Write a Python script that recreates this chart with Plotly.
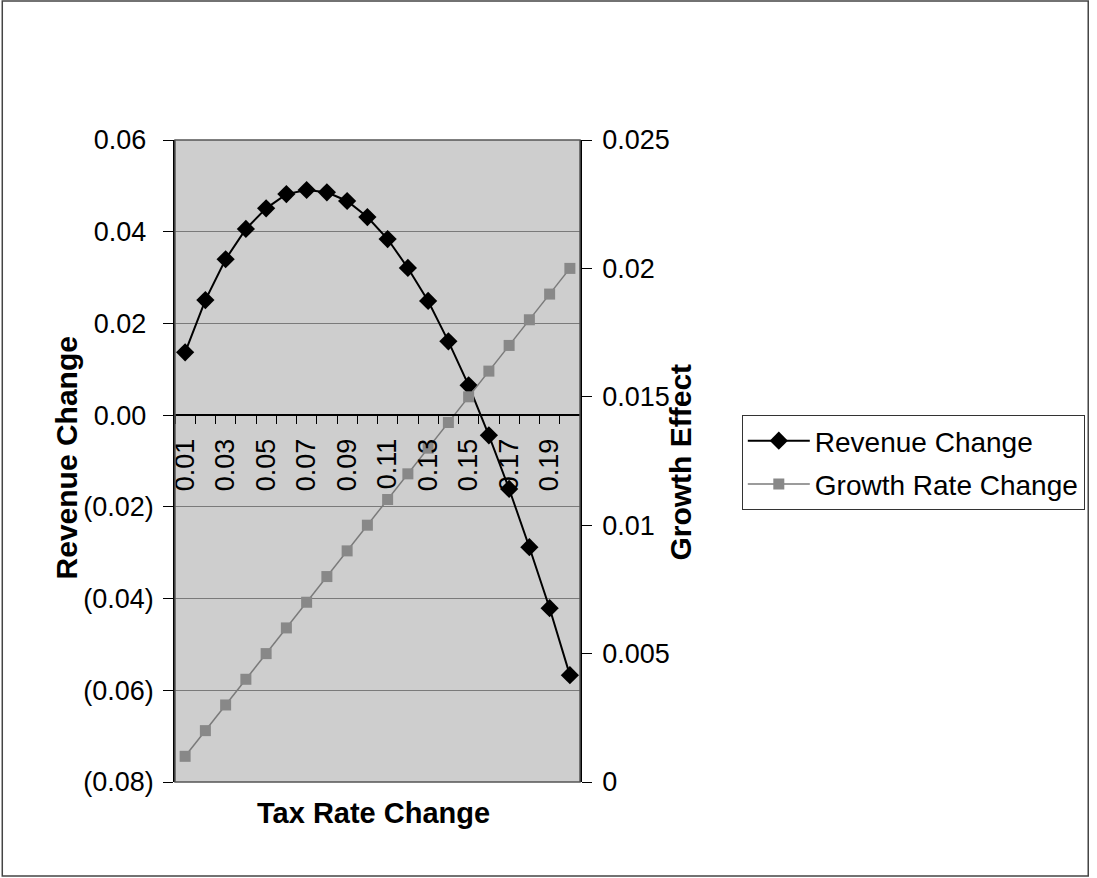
import plotly.graph_objects as go

# Tax rate categories (0.01 .. 0.20)
tax_rates = [f"{i/100:.2f}" for i in range(1, 21)]

# Revenue change for each tax rate (left axis)
revenue_change = [0.0137, 0.0251, 0.0340, 0.0406, 0.0451, 0.0482, 0.0491, 0.0486,
                  0.0467, 0.0432, 0.0384, 0.0321, 0.0249, 0.0161, 0.0065, -0.0044,
                  -0.0161, -0.0288, -0.0421, -0.0567]

# Growth rate change for each tax rate (right axis)
growth_change = [0.001, 0.002, 0.003, 0.004, 0.005, 0.006, 0.007, 0.008, 0.009, 0.010,
                 0.011, 0.012, 0.013, 0.014, 0.015, 0.016, 0.017, 0.018, 0.019, 0.020]

NBSP = "\u00a0"
left_ticks = [-0.08, -0.06, -0.04, -0.02, 0.0, 0.02, 0.04, 0.06]
left_tick_text = ["(0.08)", "(0.06)", "(0.04)", "(0.02)",
                  "0.00" + NBSP, "0.02" + NBSP, "0.04" + NBSP, "0.06" + NBSP]
right_ticks = [0, 0.005, 0.01, 0.015, 0.02, 0.025]
right_tick_text = ["0", "0.005", "0.01", "0.015", "0.02", "0.025"]

W, H = 1097, 878
L, R, T, B = 175, 583, 140, 782
pw, ph = R - L, B - T

xpos = list(range(1, len(tax_rates) + 1))
FONT = "Liberation Sans, Arial, sans-serif"
TICK_SIZE = 27
GRID = "#7a7a7a"

fig = go.Figure()
fig.add_trace(go.Scatter(
    x=xpos, y=revenue_change, name="Revenue Change", mode="lines+markers",
    legendgroup="rev",
    line=dict(color="black", width=2),
    marker=dict(symbol="diamond", size=14, color="black"),
    xaxis="x", yaxis="y"))
fig.add_trace(go.Scatter(
    x=xpos, y=growth_change, name="Growth Rate Change", mode="lines+markers",
    legendgroup="growth",
    line=dict(color="#7a7a7a", width=1.5),
    marker=dict(symbol="square", size=11, color="#888888"),
    xaxis="x", yaxis="y2"))

ymin, ymax = left_ticks[0], left_ticks[-1]
zero_pos = (0 - ymin) / (ymax - ymin)

fig.update_layout(
    width=W, height=H,
    margin=dict(l=L, r=W - R, t=T, b=H - B, pad=0),
    paper_bgcolor="white",
    plot_bgcolor="#cecece",
    font=dict(family=FONT, size=TICK_SIZE, color="black"),
    showlegend=True,
    legend=dict(
        x=(746 - L) / pw, y=(B - 415) / ph, xanchor="left", yanchor="top",
        bgcolor="white", bordercolor="#333333", borderwidth=1,
        font=dict(size=28, family=FONT), itemwidth=62, tracegroupgap=4),
    xaxis=dict(
        range=[0.5, len(tax_rates) + 0.5],
        tickmode="array", tickvals=xpos[::2], ticktext=tax_rates[::2],
        tickangle=-90, ticks="", showgrid=False, zeroline=False,
        showline=True, linecolor="black", linewidth=1.5,
        anchor="free", position=zero_pos,
        tickfont=dict(size=TICK_SIZE), ticklabelstandoff=12,
        minor=dict(tickvals=[i + 0.5 for i in range(0, len(tax_rates) + 1)],
                   ticks="outside", ticklen=8, tickcolor="black", showgrid=False),
    ),
    yaxis=dict(
        range=[ymin, ymax], tickmode="array", tickvals=left_ticks,
        ticktext=left_tick_text,
        showgrid=True, gridcolor=GRID, gridwidth=1.2, zeroline=False,
        showline=True, linecolor="black", linewidth=1.5,
        ticks="outside", ticklen=10, tickcolor="black", tickfont=dict(size=TICK_SIZE),
        ticklabelstandoff=4,
    ),
    yaxis2=dict(
        range=[right_ticks[0], right_ticks[-1]],
        overlaying="y", side="right",
        tickmode="array", tickvals=right_ticks, ticktext=right_tick_text,
        showgrid=False, zeroline=False,
        showline=True, linecolor="black", linewidth=1.5,
        ticks="outside", ticklen=10, tickcolor="black", tickfont=dict(size=TICK_SIZE),
        ticklabelstandoff=5,
    ),
)

# Plot-area outline (top and bottom edges; the y axis lines cover the sides)
fig.add_shape(type="rect", xref="paper", yref="paper", x0=0, x1=1, y0=0, y1=1,
              line=dict(color="#555555", width=1.5), fillcolor="rgba(0,0,0,0)",
              layer="above")

# Axis titles
fig.add_annotation(text="<b>Tax Rate Change</b>", xref="paper", yref="paper",
                   x=(375 - L) / pw, y=(B - 831) / ph, showarrow=False,
                   font=dict(size=29, family=FONT))
fig.add_annotation(text="<b>Revenue Change</b>", xref="paper", yref="paper",
                   x=(47 - L) / pw, y=(B - 458) / ph, showarrow=False, textangle=-90,
                   font=dict(size=30, family=FONT))
fig.add_annotation(text="<b>Growth Effect</b>", xref="paper", yref="paper",
                   x=(703 - L) / pw, y=(B - 462) / ph, showarrow=False, textangle=-90,
                   font=dict(size=30, family=FONT))

# Chart frame
fig.add_shape(type="rect", xref="paper", yref="paper",
              x0=(1 - L) / pw, x1=(W - 2 - L) / pw, y0=(B - (H - 2)) / ph, y1=(B - 1) / ph,
              line=dict(color="#444444", width=1.5), fillcolor="rgba(0,0,0,0)", layer="below")

fig.write_html("out.html")
